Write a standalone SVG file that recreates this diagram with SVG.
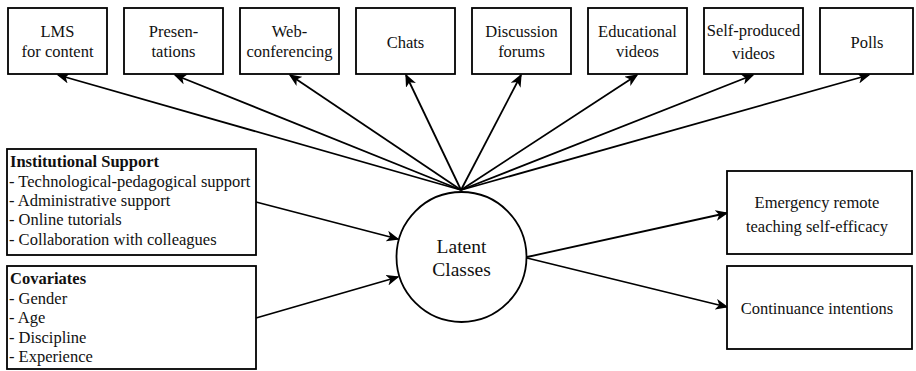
<svg xmlns="http://www.w3.org/2000/svg" width="916" height="371" viewBox="0 0 916 371">
<style>
.box{fill:#fff;stroke:#000;stroke-width:1.8}
.t{font-size:16.5px;fill:#111}
.c{text-anchor:middle}
.b{font-weight:bold}
.big{font-size:19.5px}
.edge{stroke:#000;stroke-width:1.8;fill:none;marker-end:url(#ah)}
</style>
<defs>
<marker id="ah" viewBox="0 0 13 11" refX="11.5" refY="5.5" markerWidth="13" markerHeight="11" markerUnits="userSpaceOnUse" orient="auto">
<path d="M0,0 L13,5.5 L0,11 L3.5,5.5 Z" fill="#000"/>
</marker>
</defs>
<rect width="916" height="371" fill="#fff"/>
<g id="connectors">
<line class="edge" x1="461" y1="190" x2="58" y2="75"/>
<line class="edge" x1="461" y1="190" x2="175" y2="75"/>
<line class="edge" x1="461" y1="190" x2="290" y2="75"/>
<line class="edge" x1="461" y1="190" x2="406" y2="75"/>
<line class="edge" x1="461" y1="190" x2="521" y2="75"/>
<line class="edge" x1="461" y1="190" x2="637" y2="75"/>
<line class="edge" x1="461" y1="190" x2="753" y2="75"/>
<line class="edge" x1="461" y1="190" x2="869" y2="75"/>
<line class="edge" x1="256" y1="202" x2="398" y2="239"/>
<line class="edge" x1="256" y1="318" x2="398" y2="277"/>
<line class="edge" x1="527" y1="257" x2="727" y2="213"/>
<line class="edge" x1="527" y1="258" x2="727" y2="307"/>
</g>
<g font-family="Liberation Serif, serif">
<g id="lms"><rect class="box" x="8" y="8" width="99" height="66"/><text class="t c" x="57.5" y="37">LMS</text><text class="t c" x="57.5" y="57">for content</text></g>
<g id="presentations"><rect class="box" x="124" y="8" width="99" height="66"/><text class="t c" x="173.5" y="37">Presen-</text><text class="t c" x="173.5" y="57">tations</text></g>
<g id="webconf"><rect class="box" x="240" y="8" width="99" height="66"/><text class="t c" x="289.5" y="37">Web-</text><text class="t c" x="289.5" y="57">conferencing</text></g>
<g id="chats"><rect class="box" x="356" y="8" width="99" height="66"/><text class="t c" x="405.5" y="48">Chats</text></g>
<g id="forums"><rect class="box" x="472" y="8" width="99" height="66"/><text class="t c" x="521.5" y="37">Discussion</text><text class="t c" x="521.5" y="57">forums</text></g>
<g id="eduvideos"><rect class="box" x="588" y="8" width="99" height="66"/><text class="t c" x="637.5" y="37">Educational</text><text class="t c" x="637.5" y="57">videos</text></g>
<g id="selfvideos"><rect class="box" x="704" y="8" width="99" height="66"/><text class="t c" x="753.5" y="36">Self-produced</text><text class="t c" x="753.5" y="59">videos</text></g>
<g id="polls"><rect class="box" x="820" y="8" width="93" height="66"/><text class="t c" x="867" y="48">Polls</text></g>
<g id="institutional"><rect class="box" x="7" y="149" width="249" height="106"/>
<text class="t b" x="10" y="167">Institutional Support</text>
<text class="t" x="9" y="186.5">- Technological-pedagogical support</text>
<text class="t" x="9" y="206">- Administrative support</text>
<text class="t" x="9" y="225">- Online tutorials</text>
<text class="t" x="9" y="244.5">- Collaboration with colleagues</text></g>
<g id="covariates"><rect class="box" x="7" y="266" width="249" height="103"/>
<text class="t b" x="10" y="284">Covariates</text>
<text class="t" x="9" y="303.5">- Gender</text>
<text class="t" x="9" y="323">- Age</text>
<text class="t" x="9" y="342.5">- Discipline</text>
<text class="t" x="9" y="362">- Experience</text></g>
<g id="latent"><circle class="box" cx="461.5" cy="257" r="65"/><text class="t c big" x="461.5" y="253">Latent</text><text class="t c big" x="461.5" y="276">Classes</text></g>
<g id="ert"><rect class="box" x="727" y="171" width="185" height="83"/><text class="t c" x="817" y="208">Emergency remote</text><text class="t c" x="817" y="232">teaching self-efficacy</text></g>
<g id="ci"><rect class="box" x="727" y="266" width="185" height="83"/><text class="t c" x="817" y="314">Continuance intentions</text></g>
</g>
</svg>
